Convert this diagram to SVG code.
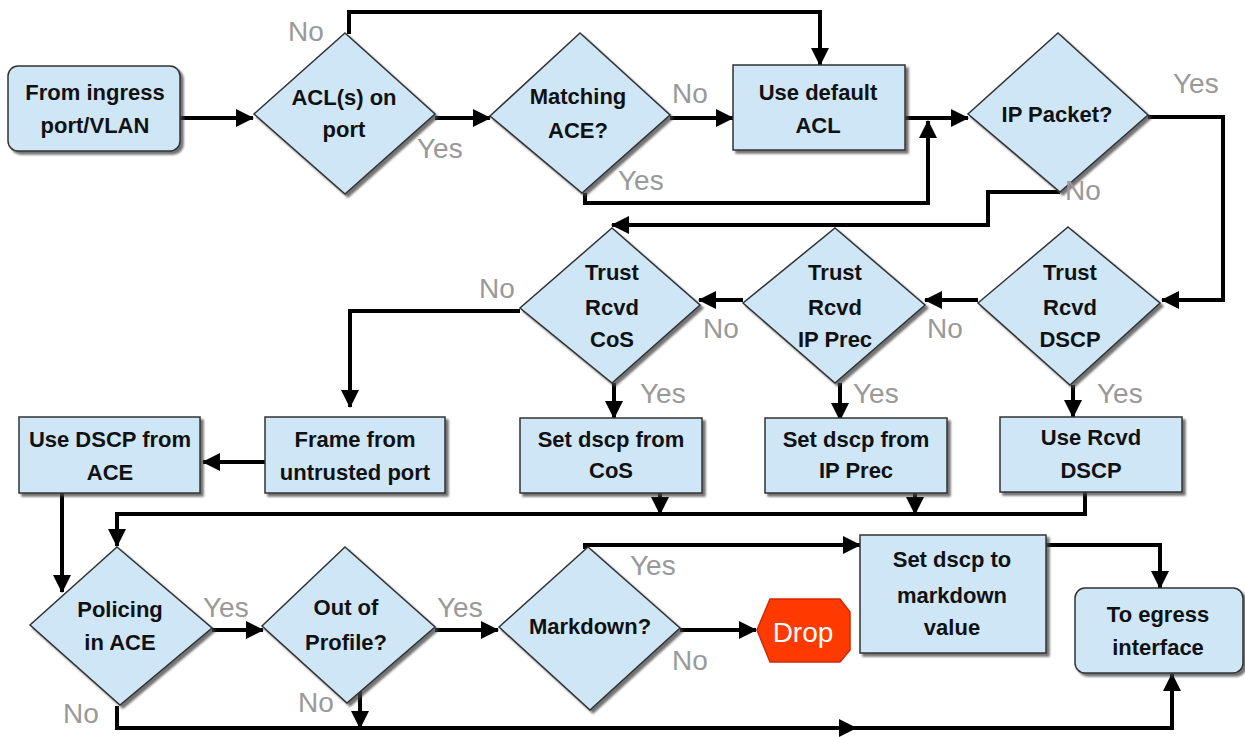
<svg xmlns="http://www.w3.org/2000/svg" width="1245" height="737" viewBox="0 0 1245 737">
<defs>
<filter id="sh" x="-10%" y="-10%" width="130%" height="130%">
<feDropShadow dx="3" dy="3" stdDeviation="1" flood-color="#444" flood-opacity="0.75"/>
</filter>
<marker id="ah" markerUnits="userSpaceOnUse" markerWidth="18" markerHeight="18" refX="17" refY="9" orient="auto">
<path d="M0,0 L18,9 L0,18 z" fill="#000"/>
</marker>
<style>
.n{fill:#cfe6f7;stroke:#333;stroke-width:1.5;filter:url(#sh)}
.t{font-family:"Liberation Sans",Arial,sans-serif;font-weight:bold;font-size:22px;fill:#111;text-anchor:middle}
.l{font-family:"Liberation Sans",Arial,sans-serif;font-size:28px;fill:#999}
.c path{fill:none;stroke:#000;stroke-width:4}
.a{marker-end:url(#ah)}
</style>
</defs>
<rect width="1245" height="737" fill="#fff"/>

<g class="c" id="connectors">
<path class="a" d="M180,118 L253,118"/>
<path class="a" d="M349,34 L349,12 L820,12 L820,65"/>
<path class="a" d="M435,118 L490,118"/>
<path class="a" d="M670,118 L733,118"/>
<path class="a" d="M585,193 L585,203 L928,203 L928,121"/>
<path class="a" d="M905,118 L968,118"/>
<path class="a" d="M1148,117 L1223,117 L1223,300 L1162,300"/>
<path class="a" d="M1060,192 L988,192 L988,225 L612,225"/>
<path class="a" d="M978,300 L925,300"/>
<path class="a" d="M743,300 L699,300"/>
<path class="a" d="M520,311 L350,311 L350,407"/>
<path class="a" d="M614,383 L614,418"/>
<path class="a" d="M840,383 L840,420"/>
<path class="a" d="M1073,385 L1073,417"/>
<path class="a" d="M265,462 L203,462"/>
<path class="a" d="M62,492 L62,592"/>
<path class="a" d="M1085,492 L1085,514 L117,514 L117,546"/>
<path class="a" d="M660,472 L660,514"/>
<path class="a" d="M915,472 L915,514"/>
<path class="a" d="M212,630 L263,630"/>
<path class="a" d="M435,630 L498,630"/>
<path class="a" d="M680,630 L756,630"/>
<path class="a" d="M585,549 L585,545 L860,545"/>
<path class="a" d="M1046,545 L1160,545 L1160,588"/>
<path class="a" d="M117,706 L117,728 L856,728"/>
<path class="a" d="M845,728 L1172,728 L1172,674"/>
<path class="a" d="M360,688 L360,728"/>
</g>

<g id="n-ingress"><rect class="n" x="8" y="66" width="172" height="85" rx="10"/>
<text class="t" x="95" y="100">From ingress</text><text class="t" x="95" y="133">port/VLAN</text></g>

<g id="d-acl"><polygon class="n" points="345,33 435,114 345,194 254,114"/>
<text class="t" x="344" y="105">ACL(s) on</text><text class="t" x="344" y="137">port</text></g>

<g id="d-match"><polygon class="n" points="580,33 670,115 582,193 490,116"/>
<text class="t" x="578" y="104">Matching</text><text class="t" x="578" y="138">ACE?</text></g>

<g id="n-default"><rect class="n" x="733" y="65" width="172" height="85"/>
<text class="t" x="818" y="100">Use default</text><text class="t" x="818" y="133">ACL</text></g>

<g id="d-ip"><polygon class="n" points="1058,33 1148,115 1060,192 968,114"/>
<text class="t" x="1057" y="122">IP Packet?</text></g>

<g id="d-dscp"><polygon class="n" points="1068,227 1160,303 1070,385 978,303"/>
<text class="t" x="1070" y="280">Trust</text><text class="t" x="1070" y="315">Rcvd</text><text class="t" x="1070" y="347">DSCP</text></g>

<g id="d-prec"><polygon class="n" points="835,228 925,305 835,383 743,303"/>
<text class="t" x="835" y="280">Trust</text><text class="t" x="835" y="315">Rcvd</text><text class="t" x="835" y="347">IP Prec</text></g>

<g id="d-cos"><polygon class="n" points="612,228 700,305 612,383 520,308"/>
<text class="t" x="612" y="280">Trust</text><text class="t" x="612" y="315">Rcvd</text><text class="t" x="612" y="347">CoS</text></g>

<g id="n-useace"><rect class="n" x="19" y="417" width="181" height="76"/>
<text class="t" x="110" y="447">Use DSCP from</text><text class="t" x="110" y="480">ACE</text></g>

<g id="n-frame"><rect class="n" x="265" y="417" width="180" height="76"/>
<text class="t" x="355" y="447">Frame from</text><text class="t" x="355" y="480">untrusted port</text></g>

<g id="n-setcos"><rect class="n" x="520" y="418" width="182" height="75"/>
<text class="t" x="611" y="447">Set dscp from</text><text class="t" x="611" y="478">CoS</text></g>

<g id="n-setprec"><rect class="n" x="765" y="418" width="182" height="75"/>
<text class="t" x="856" y="447">Set dscp from</text><text class="t" x="856" y="478">IP Prec</text></g>

<g id="n-userecvd"><rect class="n" x="1000" y="417" width="182" height="75"/>
<text class="t" x="1091" y="445">Use Rcvd</text><text class="t" x="1091" y="478">DSCP</text></g>

<g id="d-police"><polygon class="n" points="117,547 212,628 120,705 30,625"/>
<text class="t" x="120" y="617">Policing</text><text class="t" x="120" y="650">in ACE</text></g>

<g id="d-oop"><polygon class="n" points="345,547 435,627 347,703 262,626"/>
<text class="t" x="346" y="615">Out of</text><text class="t" x="346" y="650">Profile?</text></g>

<g id="d-markdown"><polygon class="n" points="588,547 680,628 590,710 499,627"/>
<text class="t" x="590" y="634">Markdown?</text></g>

<g id="n-drop"><polygon points="757,630 770,599 840,599 850,612 850,650 840,662 770,662" fill="#ff3a00" stroke="#d02800" stroke-width="1.5"/>
<text x="803" y="642" font-family="'Liberation Sans',Arial,sans-serif" font-size="28" fill="#fff" text-anchor="middle">Drop</text></g>

<g id="n-setmark"><rect class="n" x="860" y="535" width="186" height="118"/>
<text class="t" x="952" y="567">Set dscp to</text><text class="t" x="952" y="603">markdown</text><text class="t" x="952" y="635">value</text></g>

<g id="n-egress"><rect class="n" x="1075" y="588" width="168" height="85" rx="10"/>
<text class="t" x="1158" y="622">To egress</text><text class="t" x="1158" y="655">interface</text></g>

<g id="labels">
<text class="l" x="288" y="41">No</text>
<text class="l" x="417" y="158">Yes</text>
<text class="l" x="672" y="103">No</text>
<text class="l" x="618" y="190">Yes</text>
<text class="l" x="1173" y="93">Yes</text>
<text class="l" x="1065" y="200">No</text>
<text class="l" x="479" y="298">No</text>
<text class="l" x="703" y="338">No</text>
<text class="l" x="927" y="338">No</text>
<text class="l" x="640" y="403">Yes</text>
<text class="l" x="853" y="403">Yes</text>
<text class="l" x="1097" y="403">Yes</text>
<text class="l" x="203" y="617">Yes</text>
<text class="l" x="63" y="723">No</text>
<text class="l" x="437" y="617">Yes</text>
<text class="l" x="298" y="712">No</text>
<text class="l" x="630" y="575">Yes</text>
<text class="l" x="672" y="670">No</text>
</g>
</svg>
